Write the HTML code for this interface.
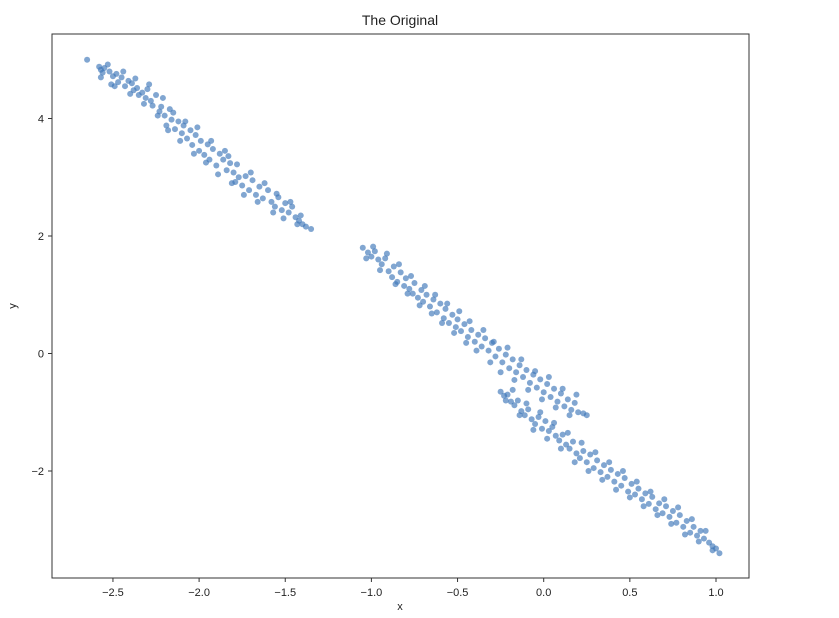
<!DOCTYPE html>
<html><head><meta charset="utf-8"><style>
body{margin:0;background:#fff;}
svg text{font-family:"Liberation Sans","DejaVu Sans",sans-serif;fill:#222;}
</style></head><body>
<svg id="chart" width="839" height="613" viewBox="0 0 839 613" xmlns="http://www.w3.org/2000/svg">
<text x="400" y="25" font-size="14" text-anchor="middle">The Original</text>
<g id="points"></g>
<g id="axes"></g>
<rect x="52" y="34" width="697" height="544" fill="none" stroke="#333" stroke-width="1"/>
<text x="400" y="610" font-size="11" text-anchor="middle">x</text>
<text x="16" y="306" font-size="11" text-anchor="middle" transform="rotate(-90 16 306)">y</text>
</svg>
<script>
const xTicks=[-2.5,-2.0,-1.5,-1.0,-0.5,0.0,0.5,1.0];
const xTickLabels=["\u22122.5","\u22122.0","\u22121.5","\u22121.0","\u22120.5","0.0","0.5","1.0"];
const yTicks=[4,2,0,-2];
const yTickLabels=["4","2","0","\u22122"];
const clusterA=[[-2.65,5.0],[-2.58,4.88],[-2.57,4.83],[-2.55,4.86],[-2.56,4.78],[-2.52,4.80],[-2.50,4.72],[-2.48,4.76],[-2.47,4.62],[-2.51,4.58],[-2.45,4.70],[-2.43,4.55],[-2.41,4.64],[-2.39,4.60],[-2.38,4.48],[-2.36,4.52],[-2.35,4.40],[-2.33,4.44],[-2.31,4.35],[-2.30,4.50],[-2.28,4.30],[-2.27,4.22],[-2.25,4.40],[-2.23,4.12],[-2.22,4.20],[-2.20,4.05],[-2.19,3.88],[-2.17,4.16],[-2.16,3.98],[-2.14,3.82],[-2.12,3.95],[-2.10,3.75],[-2.09,3.88],[-2.07,3.66],[-2.05,3.80],[-2.04,3.55],[-2.02,3.72],[-2.00,3.45],[-1.99,3.62],[-1.97,3.38],[-1.95,3.56],[-1.94,3.30],[-1.92,3.48],[-1.90,3.20],[-1.88,3.40],[-1.86,3.30],[-1.84,3.12],[-1.83,3.36],[-1.82,3.24],[-1.80,3.08],[-1.79,2.92],[-1.77,3.00],[-1.75,2.86],[-1.73,3.02],[-1.71,2.78],[-1.69,2.95],[-1.67,2.70],[-1.65,2.84],[-1.63,2.64],[-1.60,2.78],[-1.58,2.58],[-1.56,2.50],[-1.54,2.66],[-1.52,2.44],[-1.50,2.56],[-1.48,2.40],[-1.46,2.50],[-1.44,2.32],[-1.42,2.26],[-1.40,2.20],[-1.38,2.16],[-1.35,2.12]];
const clusterAExtra=[[-2.57,4.70],[-2.53,4.92],[-2.49,4.55],[-2.44,4.80],[-2.40,4.42],[-2.37,4.68],[-2.32,4.25],[-2.29,4.58],[-2.24,4.05],[-2.21,4.35],[-2.18,3.80],[-2.15,4.10],[-2.11,3.62],[-2.08,3.95],[-2.03,3.40],[-2.01,3.85],[-1.96,3.25],[-1.93,3.62],[-1.89,3.05],[-1.85,3.45],[-1.81,2.90],[-1.78,3.22],[-1.74,2.70],[-1.70,3.08],[-1.66,2.58],[-1.62,2.90],[-1.57,2.40],[-1.55,2.72],[-1.51,2.30],[-1.47,2.58],[-1.43,2.20],[-1.41,2.35]];
const clusterB=[[-1.05,1.80],[-1.02,1.72],[-1.00,1.65],[-0.98,1.74],[-0.96,1.60],[-0.94,1.52],[-0.92,1.62],[-0.90,1.40],[-0.88,1.30],[-0.87,1.48],[-0.85,1.22],[-0.83,1.38],[-0.81,1.15],[-0.80,1.28],[-0.78,1.10],[-0.76,1.02],[-0.75,1.20],[-0.73,0.95],[-0.71,1.08],[-0.70,0.88],[-0.68,1.00],[-0.66,0.80],[-0.64,0.92],[-0.62,0.70],[-0.60,0.85],[-0.58,0.60],[-0.57,0.76],[-0.55,0.52],[-0.53,0.66],[-0.51,0.45],[-0.50,0.58],[-0.48,0.38],[-0.46,0.50],[-0.44,0.28],[-0.42,0.40],[-0.40,0.20],[-0.38,0.32],[-0.36,0.12],[-0.34,0.26],[-0.32,0.05],[-0.30,0.18],[-0.28,-0.05],[-0.26,0.08],[-0.24,-0.15],[-0.22,-0.02],[-0.20,-0.25],[-0.18,-0.10],[-0.16,-0.32],[-0.14,-0.20],[-0.12,-0.40],[-0.10,-0.28],[-0.08,-0.50],[-0.06,-0.36],[-0.04,-0.58],[-0.02,-0.44],[0.00,-0.66],[0.02,-0.52],[0.04,-0.74],[0.06,-0.60],[0.08,-0.82],[0.10,-0.68],[0.12,-0.90],[0.14,-0.78],[0.16,-0.96],[0.18,-0.84],[0.20,-1.00],[0.23,-1.02],[0.25,-1.05]];
const clusterBExtra=[[-1.03,1.62],[-0.99,1.82],[-0.95,1.42],[-0.91,1.70],[-0.86,1.18],[-0.84,1.52],[-0.79,1.02],[-0.77,1.32],[-0.72,0.82],[-0.69,1.15],[-0.65,0.68],[-0.63,1.00],[-0.59,0.52],[-0.56,0.85],[-0.52,0.35],[-0.49,0.72],[-0.45,0.18],[-0.43,0.55],[-0.39,0.05],[-0.35,0.40],[-0.31,-0.15],[-0.29,0.20],[-0.25,-0.32],[-0.21,0.10],[-0.17,-0.45],[-0.13,-0.10],[-0.09,-0.62],[-0.05,-0.30],[-0.01,-0.78],[0.03,-0.40],[0.07,-0.92],[0.11,-0.60],[0.15,-1.05],[0.19,-0.70]];
const clusterC=[[-0.25,-0.65],[-0.23,-0.72],[-0.21,-0.70],[-0.19,-0.82],[-0.17,-0.88],[-0.15,-0.80],[-0.13,-0.98],[-0.11,-1.05],[-0.09,-0.95],[-0.07,-1.12],[-0.05,-1.20],[-0.03,-1.08],[-0.01,-1.28],[0.01,-1.15],[0.03,-1.32],[0.05,-1.25],[0.07,-1.40],[0.09,-1.48],[0.11,-1.38],[0.13,-1.55],[0.15,-1.62],[0.17,-1.50],[0.19,-1.70],[0.21,-1.78],[0.23,-1.66],[0.25,-1.85],[0.27,-1.72],[0.29,-1.95],[0.31,-1.82],[0.33,-2.02],[0.35,-1.90],[0.37,-2.10],[0.39,-1.98],[0.41,-2.18],[0.43,-2.05],[0.45,-2.25],[0.47,-2.12],[0.49,-2.35],[0.51,-2.22],[0.53,-2.40],[0.55,-2.30],[0.57,-2.48],[0.59,-2.38],[0.61,-2.56],[0.63,-2.44],[0.65,-2.65],[0.67,-2.55],[0.69,-2.72],[0.71,-2.60],[0.73,-2.78],[0.75,-2.68],[0.77,-2.88],[0.79,-2.75],[0.81,-2.95],[0.83,-2.85],[0.85,-3.05],[0.87,-2.95],[0.89,-3.10],[0.91,-3.02],[0.93,-3.15],[0.96,-3.22],[0.98,-3.28],[1.00,-3.32],[1.02,-3.40]];
const clusterCExtra=[[-0.22,-0.80],[-0.18,-0.62],[-0.14,-1.05],[-0.10,-0.85],[-0.06,-1.30],[-0.02,-1.00],[0.02,-1.45],[0.06,-1.18],[0.10,-1.62],[0.14,-1.35],[0.18,-1.85],[0.22,-1.52],[0.26,-2.00],[0.30,-1.68],[0.34,-2.15],[0.38,-1.85],[0.42,-2.32],[0.46,-2.00],[0.50,-2.45],[0.54,-2.18],[0.58,-2.60],[0.62,-2.35],[0.66,-2.75],[0.70,-2.48],[0.74,-2.90],[0.78,-2.62],[0.82,-3.08],[0.86,-2.82],[0.90,-3.20],[0.94,-3.02],[0.98,-3.35]];

const NS="http://www.w3.org/2000/svg";
function sx(v){return 543.7+v*172.3;}
function sy(v){return 353.5-v*58.75;}
const pg=document.getElementById('points');
[clusterA,clusterAExtra,clusterB,clusterBExtra,clusterC,clusterCExtra].forEach(function(cl){
  cl.forEach(function(p){
    const c=document.createElementNS(NS,'circle');
    
    
    c.setAttribute('cx',sx(p[0]));c.setAttribute('cy',sy(p[1]));
    c.setAttribute('r',3);c.setAttribute('fill','#3d76b8');c.setAttribute('fill-opacity','0.65');
    pg.appendChild(c);
  });
});
const ag=document.getElementById('axes');
xTicks.forEach(function(t,i){
  const l=document.createElementNS(NS,'line');
  
  
  l.setAttribute('x1',sx(t));l.setAttribute('x2',sx(t));l.setAttribute('y1',578);l.setAttribute('y2',582);l.setAttribute('stroke','#333');
  ag.appendChild(l);
  const tx=document.createElementNS(NS,'text');
  
  
  tx.setAttribute('x',sx(t));tx.setAttribute('y',596);tx.setAttribute('font-size','11');tx.setAttribute('text-anchor','middle');
  tx.textContent=xTickLabels[i];ag.appendChild(tx);
});
yTicks.forEach(function(t,i){
  const l=document.createElementNS(NS,'line');
  
  
  l.setAttribute('x1',48);l.setAttribute('x2',52);l.setAttribute('y1',sy(t));l.setAttribute('y2',sy(t));l.setAttribute('stroke','#333');
  ag.appendChild(l);
  const tx=document.createElementNS(NS,'text');
  
  
  tx.setAttribute('x',44);tx.setAttribute('y',sy(t)+4);tx.setAttribute('font-size','11');tx.setAttribute('text-anchor','end');
  tx.textContent=yTickLabels[i];ag.appendChild(tx);
});
</script>
</body></html>
